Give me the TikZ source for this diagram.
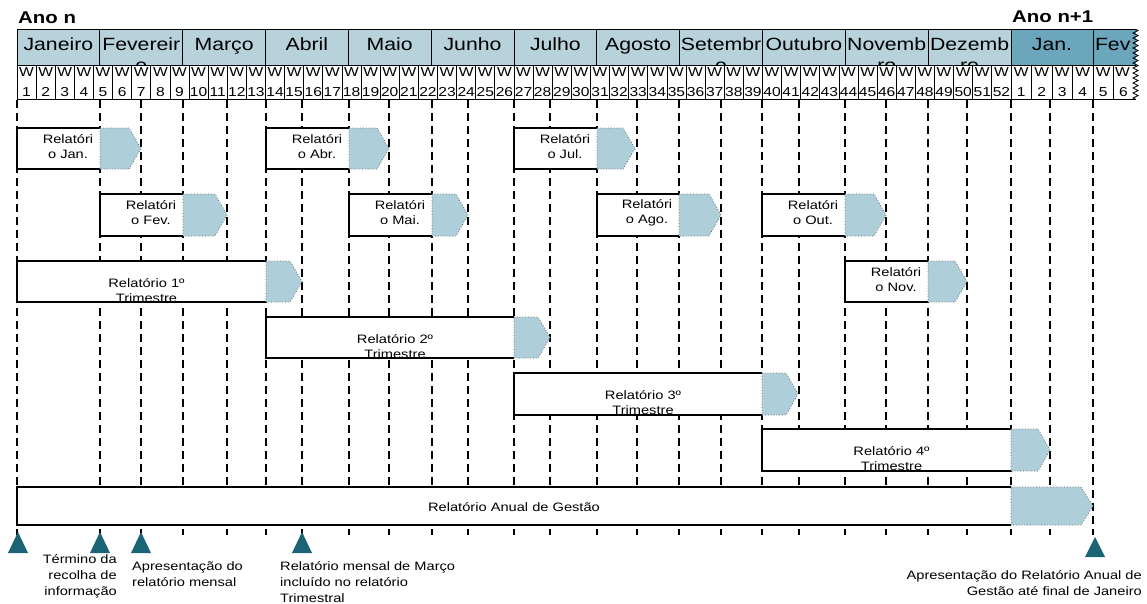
\documentclass[tikz,border=0pt]{standalone}
\usepackage{fontspec}
\setmainfont{Liberation Sans}[FakeStretch=1.2]
\usepackage{tikz}
\usetikzlibrary{decorations.pathmorphing}

\definecolor{mesclaro}{RGB}{183,210,219}
\definecolor{mesescuro}{RGB}{108,166,188}
\definecolor{setafill}{RGB}{174,207,218}
\definecolor{marcador}{RGB}{26,100,118}

\tikzset{
	mescell/.style={draw=black, line width=0.9pt, fill=mesclaro},
	novocell/.style={draw=black, line width=0.9pt, fill=mesescuro},
	semcell/.style={draw=black, line width=0.8pt, fill=white},
	mestxt/.style={inner sep=0pt, font=\fontsize{17.7}{20}\selectfont},
	semtxt/.style={inner sep=0pt, font=\fontsize{13}{15}\selectfont},
	ano/.style={inner sep=0pt, font=\bfseries\fontsize{17}{20}\selectfont},
	grade/.style={dash pattern=on 8pt off 5pt, line width=1.6pt},
	caixa/.style={draw=black, line width=1.2pt, fill=white},
	seta/.style={draw=black!60, dotted, line width=0.8pt, fill=setafill},
	reltxt/.style={align=center, inner sep=0pt, font=\fontsize{12.2}{15}\selectfont},
	notatxt/.style={inner sep=0pt, font=\fontsize{12.2}{16}\selectfont},
	marca/.style={fill=marcador},
}

% barra de relatorio: inicio, seta, ponta, topo, base
\newcommand{\relbarra}[5]{%
	\draw[caixa] (#2,#4) -- (#1,#4) -- (#1,#5) -- (#2,#5);
	\draw[seta] (#2,#4) -- ({#3-12},#4) -- (#3,{(#4+#5)/2}) -- ({#3-12},#5) -- (#2,#5) -- cycle;
}

\begin{document}
\begin{tikzpicture}[x=1pt, y=-1pt]
	\useasboundingbox[fill=white] (0,0) rectangle (1147,603);

	% linhas de grelha
	\foreach \x in {17,100,141,183,227,266,302,349,389,432,468,514,550,597,637,679,721,762,799,845,886,928,967,1011,1050,1093}
		\draw[grade] (\x,100) -- (\x,535);

	% barras
	\relbarra{17}{100}{141}{128}{169}
	\relbarra{266}{349}{389}{128}{169}
	\relbarra{514}{597}{635}{128}{169}
	\relbarra{100}{183}{227}{194}{236}
	\relbarra{349}{432}{468}{194}{236}
	\relbarra{597}{679}{721}{194}{236}
	\relbarra{762}{845}{886}{194}{236}
	\relbarra{17}{266}{302}{261}{302}
	\relbarra{845}{928}{967}{261}{302}
	\relbarra{266}{514}{550}{317}{358}
	\relbarra{514}{762}{798}{373}{415}
	\relbarra{762}{1011}{1050}{429}{471}
	\relbarra{17}{1011}{1093}{487}{525}

	\node[reltxt] (rjan) at (68,146.5) {Relatóri\\o Jan.};
	\node[reltxt] (rabr) at (317,146.5) {Relatóri\\o Abr.};
	\node[reltxt] (rjul) at (565,146.5) {Relatóri\\o Jul.};
	\node[reltxt] (rfev) at (151,213) {Relatóri\\o Fev.};
	\node[reltxt] (rmai) at (400,213) {Relatóri\\o Mai.};
	\node[reltxt] (rago) at (647,213) {Relatóri\\o Ago.};
	\node[reltxt] (rout) at (813,213) {Relatóri\\o Out.};
	\node[reltxt] (rnov) at (896,279.5) {Relatóri\\o Nov.};
	\node[reltxt] (rtri1) at (146.5,290.5) {Relatório 1º\\Trimestre};
	\node[reltxt] (rtri2) at (395,346.5) {Relatório 2º\\Trimestre};
	\node[reltxt] (rtri3) at (643,402.5) {Relatório 3º\\Trimestre};
	\node[reltxt] (rtri4) at (891.5,458.5) {Relatório 4º\\Trimestre};
	\node[reltxt] (ranual) at (514,507) {Relatório Anual de Gestão};

	% cabecalho: meses
	\node[ano, anchor=base west] (anon) at (18,23) {Ano n};
	\node[ano, anchor=base west] (anon1) at (1012,22) {Ano n+1};
	\foreach \m [count=\i from 0] in {Janeiro,Fevereir,Março,Abril,Maio,Junho,Julho,Agosto,Setembr,Outubro,Novemb,Dezemb}{
		\pgfmathsetmacro\xa{17+\i*82.83}
		\draw[mescell] (\xa,29.3) rectangle ++(82.83,36.4);
		\node[mestxt, anchor=base] (m\i) at (\xa+41.4,50) {\m};
	}
	\foreach \i/\r in {1/o,8/o,10/ro,11/ro}
		\node[mestxt, anchor=base] (resto\i) at ({17+\i*82.83+41.4},71) {\r};
	\draw[novocell] (1011,29.3) rectangle (1093,65.7);
	\node[mestxt, anchor=base] (mjan) at (1052,50) {Jan.};
	\fill[mesescuro] (1093,29.3) rectangle (1136,65.7);
	\node[mestxt, anchor=base west] (mfev) at (1094.8,50) {Fev};
	\draw[line width=0.9pt] (1136,29.3) -- (1093,29.3) -- (1093,65.7) -- (1136,65.7);

	% semanas
	\foreach \w in {1,...,52}{
		\pgfmathsetmacro\xa{17+(\w-1)*19.115}
		\draw[semcell] (\xa,65.7) rectangle ++(19.115,33.8);
		\node[semtxt, anchor=base] (w\w) at (\xa+9.56,76.5) {W};
		\node[semtxt, anchor=base] (n\w) at (\xa+9.56,96.5) {\w};
	}
	\foreach \w in {1,...,5}{
		\pgfmathsetmacro\xa{1011+(\w-1)*20.5}
		\draw[semcell] (\xa,65.7) rectangle ++(20.5,33.8);
		\node[semtxt, anchor=base] (v\w) at (\xa+10.25,76.5) {W};
		\node[semtxt, anchor=base] (u\w) at (\xa+10.25,96.5) {\w};
	}
	\draw[line width=0.8pt] (1136,65.7) -- (1113.5,65.7) -- (1113.5,99.5) -- (1136,99.5);
	\node[semtxt, anchor=base] (v6) at (1122.5,76.5) {W};
	\node[semtxt, anchor=base] (u6) at (1123.5,96.5) {6};
	\fill[white] (1137,25) rectangle (1147,103);
	\draw[line width=0.8pt, decorate, decoration={zigzag, segment length=5pt, amplitude=2.5pt}] (1135.5,29.3) -- (1135.5,99.5);

	% marcos
	\foreach \x in {18,100,141,302}
		\fill[marca] (\x-10,553) -- (\x+10,553) -- (\x,532) -- cycle;
	\fill[marca] (1085,557) -- (1105,557) -- (1095,537) -- cycle;

	\node[notatxt, align=right, anchor=north east] (termino) at (117,554) {Término da\\recolha de\\informação};
	\node[notatxt, align=left, anchor=north west] (apres) at (132,561) {Apresentação do\\relatório mensal};
	\node[notatxt, align=left, anchor=north west] (marco) at (280,561) {Relatório mensal de Março\\incluído no relatório\\Trimestral};
	\node[notatxt, align=right, anchor=north east] (anual) at (1142,570) {Apresentação do Relatório Anual de\\Gestão até final de Janeiro};
\end{tikzpicture}
\end{document}
